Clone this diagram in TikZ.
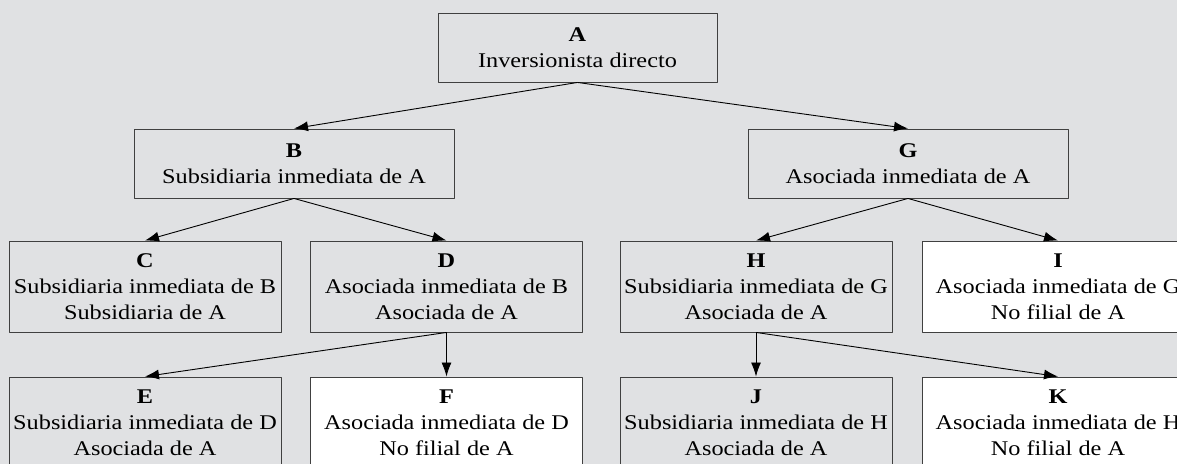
\documentclass[tikz,border=0pt]{standalone}
\usepackage{fontspec}
\setmainfont{Liberation Serif}[FakeStretch=1.16]
\usetikzlibrary{arrows.meta}
\definecolor{fondo}{RGB}{224,225,227}
\tikzset{
  caja/.style={draw=black!75,line width=0.9bp,fill=fondo,inner sep=0pt,align=center,
    minimum width=272bp,minimum height=91bp,font=\fontsize{21}{26}\selectfont},
  cajaancha/.style={caja,minimum width=320bp,minimum height=69bp},
  blanca/.style={fill=white},
}
\begin{document}
\begin{tikzpicture}[>={Latex[length=14bp,width=10bp]},line join=bevel,]
%%
\fill [fondo] (0bp,0bp) rectangle (1177bp,464bp);
\useasboundingbox (0bp,0bp) rectangle (1177bp,464bp);
\clip (0bp,0bp) rectangle (1177bp,464bp);
%
\node (node_A) at (577.5bp,416.5bp) [cajaancha,minimum width=279bp] {\textbf{A}\\Inversionista directo};
  \node (node_B) at (294bp,300.5bp) [cajaancha] {\textbf{B}\\Subsidiaria inmediata de A};
  \node (node_G) at (908bp,300.5bp) [cajaancha] {\textbf{G}\\Asociada inmediata de A};
  \node (node_C) at (145bp,177.5bp) [caja] {\textbf{C}\\Subsidiaria inmediata de B\\Subsidiaria de A};
  \node (node_D) at (446.5bp,177.5bp) [caja] {\textbf{D}\\Asociada inmediata de B\\Asociada de A};
  \node (node_H) at (756bp,177.5bp) [caja] {\textbf{H}\\Subsidiaria inmediata de G\\Asociada de A};
  \node (node_I) at (1058bp,177.5bp) [caja,blanca] {\textbf{I}\\Asociada inmediata de G\\No filial de A};
  \node (node_E) at (145bp,41.5bp) [caja] {\textbf{E}\\Subsidiaria inmediata de D\\Asociada de A};
  \node (node_F) at (446.5bp,41.5bp) [caja,blanca] {\textbf{F}\\Asociada inmediata de D\\No filial de A};
  \node (node_J) at (756bp,41.5bp) [caja] {\textbf{J}\\Subsidiaria inmediata de H\\Asociada de A};
  \node (node_K) at (1058bp,41.5bp) [caja,blanca] {\textbf{K}\\Asociada inmediata de H\\No filial de A};
%
  \draw [black,line width=0.9bp,->] (node_A.south) -- (node_B.north);
  \draw [black,line width=0.9bp,->] (node_A.south) -- (node_G.north);
  \draw [black,line width=0.9bp,->] (node_B.south) -- (node_C.north);
  \draw [black,line width=0.9bp,->] (node_B.south) -- (node_D.north);
  \draw [black,line width=0.9bp,->] (node_G.south) -- (node_H.north);
  \draw [black,line width=0.9bp,->] (node_G.south) -- (node_I.north);
  \draw [black,line width=0.9bp,->] (node_D.south) -- (node_E.north);
  \draw [black,line width=0.9bp,->] (node_D.south) -- (node_F.north);
  \draw [black,line width=0.9bp,->] (node_H.south) -- (node_J.north);
  \draw [black,line width=0.9bp,->] (node_H.south) -- (node_K.north);
%
\end{tikzpicture}
\end{document}
